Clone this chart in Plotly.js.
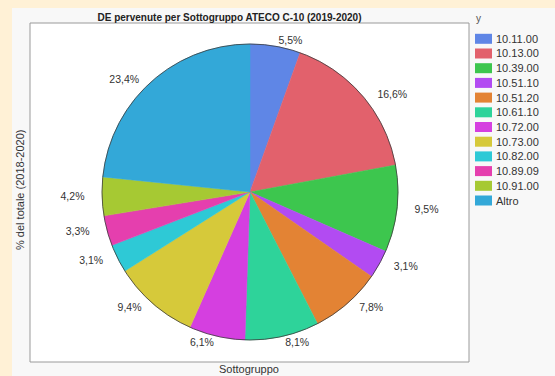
<!DOCTYPE html>
<html>
<head>
<meta charset="utf-8">
<script src="https://cdn.plot.ly/plotly-3.0.1.min.js"></script>
<style>
html,body{margin:0;padding:0;background:#FFF1D6;}
#chart{width:555px;height:376px;}
</style>
</head>
<body>
<div id="chart"></div>
<script>
// ---- data ----
const categories = ["10.11.00","10.13.00","10.39.00","10.51.10","10.51.20","10.61.10","10.72.00","10.73.00","10.82.00","10.89.09","10.91.00","Altro"];
const shares = [5.5, 16.6, 9.5, 3.1, 7.8, 8.1, 6.1, 9.4, 3.1, 3.3, 4.2, 23.4];
const colors = ["#5F86E6","#E2616C","#3DC64E","#B24BF2","#E38334","#2ED39A","#D53FE0","#D6C93A","#2EC9D6","#E53FAE","#A6C933","#33A8D8"];
const chartTitle = "DE pervenute per Sottogruppo ATECO C-10 (2019-2020)";
const xTitle = "Sottogruppo";
const yTitle = "% del totale (2018-2020)";
const legendTitle = "y";

const W = 555, H = 376;
const px = x => x / W;
const py = y => 1 - y / H;

// outside labels, padded with non-breaking spaces on the pie side so they sit a bit further out
const total = shares.reduce((a, b) => a + b, 0);
let cum = 0;
const labelText = shares.map(v => {
  const mid = (cum + v / 2) / total * 2 * Math.PI;
  cum += v;
  const s = Math.sin(mid);
  const n = Math.abs(s) > 0.3 ? Math.round(5 * Math.abs(s)) : 0;
  const pad = '\u00A0'.repeat(n);
  const t = v.toFixed(1).replace('.', ',') + '%';
  return s > 0 ? pad + t : t + pad;
});
const pieDomain = {x: [px(102), px(398)], y: [py(340), py(44)]};

const traces = [
  {
    type: 'pie',
    labels: categories,
    values: shares,
    text: labelText,
    textinfo: 'text',
    textposition: 'outside',
    outsidetextfont: {family: 'Liberation Sans, Arial, sans-serif', size: 10.5, color: '#333333'},
    sort: false,
    direction: 'clockwise',
    rotation: 0,
    marker: {colors: colors, line: {color: colors, width: 0.5}},
    domain: pieDomain,
    hoverinfo: 'skip',
    showlegend: false
  },
  {
    type: 'pie',
    labels: ['_outline'],
    values: [1],
    textinfo: 'none',
    sort: false,
    marker: {colors: ['rgba(0,0,0,0)'], line: {color: '#3a3a3a', width: 0.8}},
    domain: pieDomain,
    hoverinfo: 'skip',
    showlegend: false
  }
];

const shapes = [
  {type: 'rect', xref: 'paper', yref: 'paper', x0: px(12), x1: 1.01, y0: -0.01, y1: py(8),
   fillcolor: '#F8F8F8', line: {width: 0}, layer: 'below'},
  {type: 'rect', xref: 'paper', yref: 'paper', x0: px(30), x1: px(469), y0: py(362), y1: py(23),
   fillcolor: '#FFFFFF', line: {color: '#9A9A9A', width: 1}, layer: 'below'}
];

const annotations = [
  {text: xTitle, xref: 'paper', yref: 'paper', x: px(249), y: py(369), xanchor: 'center', yanchor: 'middle',
   showarrow: false, font: {family: 'Liberation Sans, Arial, sans-serif', size: 11, color: '#333333'}},
  {text: yTitle, xref: 'paper', yref: 'paper', x: px(20), y: py(190), xanchor: 'center', yanchor: 'middle',
   textangle: -90, showarrow: false, font: {family: 'Liberation Sans, Arial, sans-serif', size: 11, color: '#333333'}},
  {text: legendTitle, xref: 'paper', yref: 'paper', x: px(474), y: py(19), xanchor: 'left', yanchor: 'middle',
   showarrow: false, font: {family: 'Liberation Sans, Arial, sans-serif', size: 10, color: '#555555'}}
];

// legend built from the categories / colors arrays
const legTop = 38.8, legStep = 14.7;
categories.forEach((c, i) => {
  const yc = legTop + i * legStep;
  shapes.push({type: 'rect', xref: 'paper', yref: 'paper', x0: px(475), x1: px(492), y0: py(yc + 5), y1: py(yc - 5),
    fillcolor: colors[i], line: {width: 0}});
  annotations.push({text: c, xref: 'paper', yref: 'paper', x: px(493.5), y: py(yc), xanchor: 'left', yanchor: 'middle',
    showarrow: false, font: {family: 'Liberation Sans, Arial, sans-serif', size: 11, color: '#333333'}});
});

const layout = {
  width: W, height: H,
  paper_bgcolor: '#FFF1D6',
  margin: {l: 0, r: 0, t: 0, b: 0, pad: 0, autoexpand: false},
  title: {text: '<b>' + chartTitle + '</b>', xref: 'paper', yref: 'paper', x: px(229.5), y: py(17),
          xanchor: 'center', yanchor: 'middle', font: {family: 'Liberation Sans, Arial, sans-serif', size: 10, color: '#222222'}},
  showlegend: false,
  shapes: shapes,
  annotations: annotations
};

Plotly.newPlot('chart', traces, layout, {displayModeBar: false, staticPlot: true});
</script>
</body>
</html>
